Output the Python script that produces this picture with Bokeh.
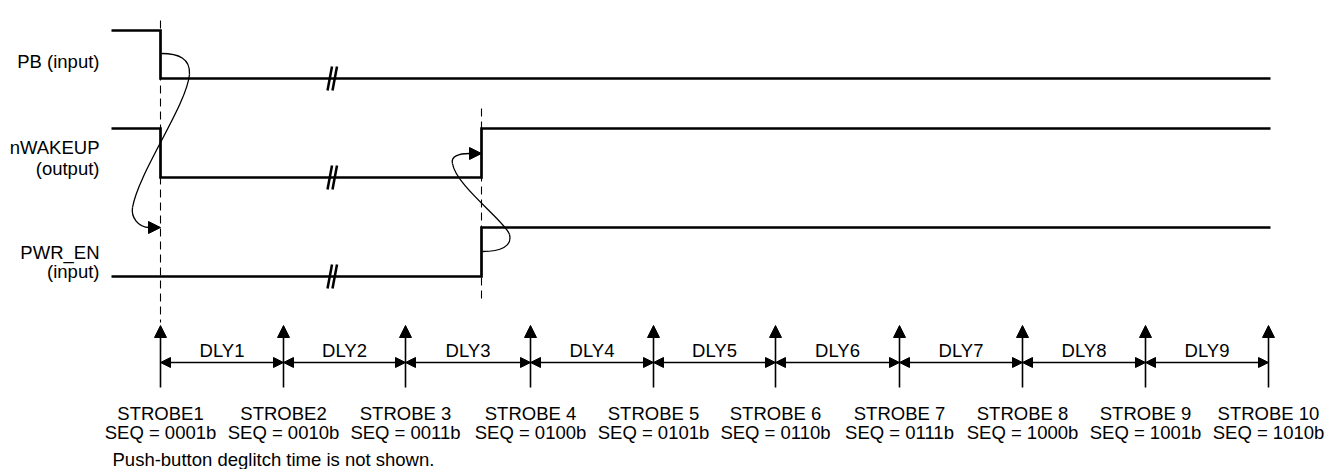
from bokeh.plotting import figure
from bokeh.models import Range1d, Arrow, NormalHead, ColumnDataSource
from bokeh.core.properties import value
from bokeh.embed import file_html
from bokeh.resources import INLINE

# ---------------- data (diagram coordinates) ----------------
strobe_x = [160, 283, 405, 530, 653, 775, 899, 1022, 1145, 1268]
strobe_labels = ["STROBE1", "STROBE2", "STROBE 3", "STROBE 4", "STROBE 5",
                 "STROBE 6", "STROBE 7", "STROBE 8", "STROBE 9", "STROBE 10"]
seq_labels = ["SEQ = 0001b", "SEQ = 0010b", "SEQ = 0011b", "SEQ = 0100b", "SEQ = 0101b",
              "SEQ = 0110b", "SEQ = 0111b", "SEQ = 1000b", "SEQ = 1001b", "SEQ = 1010b"]
dly_labels = ["DLY1", "DLY2", "DLY3", "DLY4", "DLY5", "DLY6", "DLY7", "DLY8", "DLY9"]

t_begin = 111
t_end = 1270
pb_fall = 160
wake_rise = 481
pwr_rise = 481
break_x = 332

# signal rows: high / low level
pb_levels = (30, 78)
wake_levels = (128, 177)
pwr_levels = (227, 276)

pb_x = [t_begin, pb_fall, pb_fall, t_end]
pb_y = [pb_levels[0], pb_levels[0], pb_levels[1], pb_levels[1]]
wake_x = [t_begin, pb_fall, pb_fall, wake_rise, wake_rise, t_end]
wake_y = [wake_levels[0], wake_levels[0], wake_levels[1], wake_levels[1], wake_levels[0], wake_levels[0]]
pwr_x = [t_begin, pwr_rise, pwr_rise, t_end]
pwr_y = [pwr_levels[1], pwr_levels[1], pwr_levels[0], pwr_levels[0]]

signal_labels = ["PB (input)", "nWAKEUP", "(output)", "PWR_EN", "(input)"]
signal_label_y = [61, 146.5, 168, 251.5, 271]
footer = "Push-button deglitch time is not shown."

FONT = value("Liberation Sans")
FS = "18.5px"
INK = "#000000"

W, H = 1336, 469
p = figure(width=W, height=H, x_range=Range1d(0, W), y_range=Range1d(H, 0),
           output_backend="svg", toolbar_location=None,
           x_axis_type=None, y_axis_type=None, min_border=0)
p.grid.visible = False
p.outline_line_color = None
p.background_fill_color = "white"
p.border_fill_color = "white"

# dashed reference lines
p.segment(x0=[pb_fall, wake_rise], y0=[20, 108], x1=[pb_fall, wake_rise], y1=[322, 300],
          line_color=INK, line_width=1.1, line_dash="8 5")

# signal waveforms
p.multi_line(xs=[pb_x, wake_x, pwr_x], ys=[pb_y, wake_y, pwr_y],
             line_color=INK, line_width=2.7, line_join="miter")

# break marks "//"
lows = [pb_levels[1], wake_levels[1], pwr_levels[1]]
bx0, by0, bx1, by1 = [], [], [], []
for yl in lows:
    for off in (0, 5):
        bx0.append(break_x - 5 + off); by0.append(yl + 12)
        bx1.append(break_x - 0.5 + off); by1.append(yl - 12)
p.segment(x0=bx0, y0=by0, x1=bx1, y1=by1, line_color=INK, line_width=2.5)

# curved cause/effect arrows
curve = dict(
    x0=[161, 189, 132, 482, 509, 452],
    y0=[53, 74, 207, 251, 234, 163],
    cx0=[178, 186, 130.5, 500, 506, 450],
    cy0=[53, 105, 216, 251, 222, 156],
    cx1=[190, 138, 137, 512, 455, 458],
    cy1=[58, 172, 227, 246, 185, 153],
    x1=[189, 132, 149, 509, 452, 469],
    y1=[74, 207, 227, 234, 163, 153],
)
p.bezier(source=ColumnDataSource(curve), x0="x0", y0="y0", x1="x1", y1="y1",
         cx0="cx0", cy0="cy0", cx1="cx1", cy1="cy1", line_color=INK, line_width=1.3)
for (xs, ys, xe, ye) in [(147, 227, pb_fall, 227), (468, 153, wake_rise, 153)]:
    p.add_layout(Arrow(x_start=xs, y_start=ys, x_end=xe, y_end=ye, line_alpha=0,
                       end=NormalHead(size=12, fill_color=INK, line_color=INK, line_width=1)))

# strobe arrows
strobe_src = ColumnDataSource(dict(x=strobe_x, y0=[387] * len(strobe_x), y1=[325] * len(strobe_x)))
p.add_layout(Arrow(source=strobe_src, x_start="x", y_start="y0", x_end="x", y_end="y1",
                   line_color=INK, line_width=1.6,
                   end=NormalHead(size=12, fill_color=INK, line_color=INK, line_width=1)))

# delay arrows
dly_src = ColumnDataSource(dict(xs=strobe_x[:-1], xe=strobe_x[1:], y=[362] * len(dly_labels)))
p.add_layout(Arrow(source=dly_src, x_start="xs", y_start="y", x_end="xe", y_end="y",
                   line_color=INK, line_width=1.5,
                   start=NormalHead(size=10, fill_color=INK, line_color=INK, line_width=1),
                   end=NormalHead(size=10, fill_color=INK, line_color=INK, line_width=1)))

dly_mid = [(a + b) / 2 for a, b in zip(strobe_x[:-1], strobe_x[1:])]
p.text(x=dly_mid, y=[350] * len(dly_labels), text=dly_labels, text_font=FONT,
       text_font_size=FS, text_color=INK, text_align="center", text_baseline="alphabetic")

# strobe labels
p.text(x=strobe_x, y=[413] * len(strobe_x), text=strobe_labels, text_font=FONT,
       text_font_size=FS, text_color=INK, text_align="center", text_baseline="alphabetic")
p.text(x=strobe_x, y=[432] * len(strobe_x), text=seq_labels, text_font=FONT,
       text_font_size=FS, text_color=INK, text_align="center", text_baseline="alphabetic")

# signal names
p.text(x=[99] * len(signal_labels), y=signal_label_y, text=signal_labels, text_font=FONT,
       text_font_size=FS, text_color=INK, text_align="right", text_baseline="alphabetic")

# footer note
p.text(x=[112], y=[459], text=[footer], text_font=FONT, text_font_size=FS,
       text_color=INK, text_align="left", text_baseline="alphabetic")

open("out.html", "w").write(file_html(p, INLINE))
